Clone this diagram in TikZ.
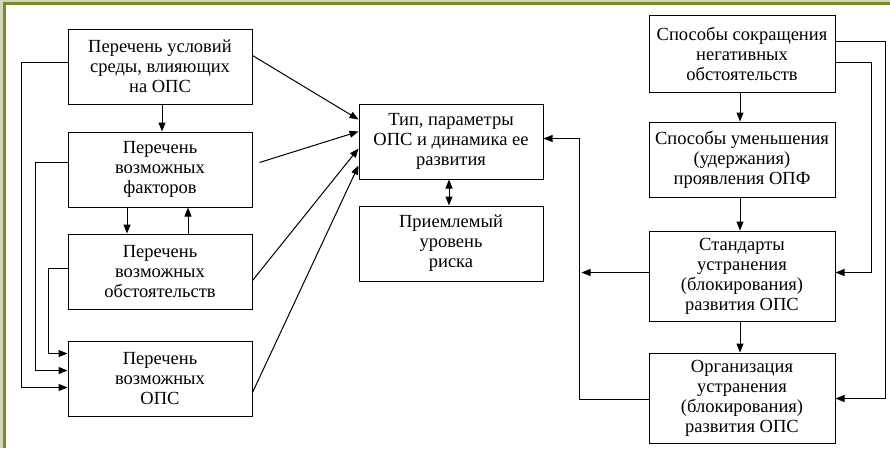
\documentclass[tikz,border=0pt]{standalone}
\usepackage{fontspec}
\setmainfont{Liberation Serif}
\usetikzlibrary{arrows.meta,calc}
\definecolor{frameol}{RGB}{122,138,46}
\definecolor{framelt}{RGB}{214,214,184}
\begin{document}
\begin{tikzpicture}[x=1pt,y=-1pt,
  box/.style={draw,line width=1pt,inner sep=0pt,align=center,
    font=\fontsize{18.5}{20}\selectfont},
  lbox/.style={box,minimum width=184pt,minimum height=75pt},
  rbox/.style={box,minimum width=186pt,minimum height=75pt},
  con/.style={line width=1pt},
  arr/.style={con,-{Triangle[length=9pt,width=7pt]}},
  darr/.style={con,{Triangle[length=9pt,width=7pt]}-{Triangle[length=9pt,width=7pt]}}]
\useasboundingbox (0,0) rectangle (890,448);
\fill[white] (0,0) rectangle (890,448);
\fill[framelt] (0,0) rectangle (890,2);
\fill[framelt] (0,0) rectangle (3,448);
\fill[frameol] (3,2) rectangle (890,5);
\fill[frameol] (3,2) rectangle (6,448);
% left column
\node[lbox] (A) at (160,66.5) {Перечень условий\\среды, влияющих\\на ОПС};
\node[lbox] (B) at (160,169.5) {Перечень\\возможных\\факторов};
\node[lbox] (C) at (160,271.5) {Перечень\\возможных\\обстоятельств};
\node[lbox] (D) at (160,378.5) {Перечень\\возможных\\ОПС};
% centre
\node[lbox] (E) at (451,141.5) {Тип, параметры\\ОПС и динамика ее\\развития};
\node[lbox] (F) at (451,243.5) {Приемлемый\\уровень\\риска};
% right column
\node[rbox,minimum height=77pt] (G) at (742,53.5) {Способы сокращения\\негативных\\обстоятельств};
\node[rbox] (H) at (742,159.5) {Способы уменьшения\\(удержания)\\проявления ОПФ};
\node[rbox,minimum height=90pt] (I) at (742,276) {Стандарты\\устранения\\(блокирования)\\развития ОПС};
\node[rbox,minimum height=90pt] (J) at (742,398) {Организация\\устранения\\(блокирования)\\развития ОПС};
% left column connectors
\draw[arr] ($(A.south)+(2,0)$) -- ($(B.north)+(2,0)$);
\draw[arr] ($(B.south)+(-33,0)$) -- ($(C.north)+(-33,0)$);
\draw[arr] ($(C.north)+(28,0)$) -- ($(B.south)+(28,0)$);
\draw[arr] ($(A.north west)+(0,34)$) -- ++(-46,0) |- ($(D.north west)+(0,47)$);
\draw[arr] ($(B.north west)+(0,31)$) -- ++(-32,0) |- ($(D.north west)+(0,30)$);
\draw[arr] ($(C.north west)+(0,35)$) -- ++(-19,0) |- ($(D.north west)+(0,13)$);
% to centre
\draw[arr] ($(A.north east)+(0,27)$) -- ($(E.north west)+(0,16)$);
\draw[arr] ($(B.north east)+(7,31)$) -- ($(E.north west)+(0,28)$);
\draw[arr] ($(C.north east)+(0,47)$) -- ($(E.north west)+(0,45)$);
\draw[arr] ($(D.north east)+(0,52)$) -- ($(E.north west)+(0,62)$);
\draw[darr] ($(E.south)+(-2,0)$) -- ($(F.north)+(-2,0)$);
% right column connectors
\draw[arr] ($(G.south)+(-2,0)$) -- ($(H.north)+(-2,0)$);
\draw[arr] ($(H.south)+(-2,0)$) -- ($(I.north)+(-2,0)$);
\draw[arr] ($(I.south)+(-2,0)$) -- ($(J.north)+(-2,0)$);
\draw[arr] ($(G.north east)+(0,27)$) -- ++(50,0) |- ($(J.north east)+(0,46)$);
\draw[arr] ($(G.north east)+(0,48)$) -- ++(36,0) |- ($(I.north east)+(0,42)$);
\draw[arr] ($(I.north west)+(0,42)$) -- ++(-67,0);
\draw[arr] ($(J.north west)+(0,47)$) -- ++(-69,0) |- ($(E.north east)+(0,35)$);
\end{tikzpicture}
\end{document}
